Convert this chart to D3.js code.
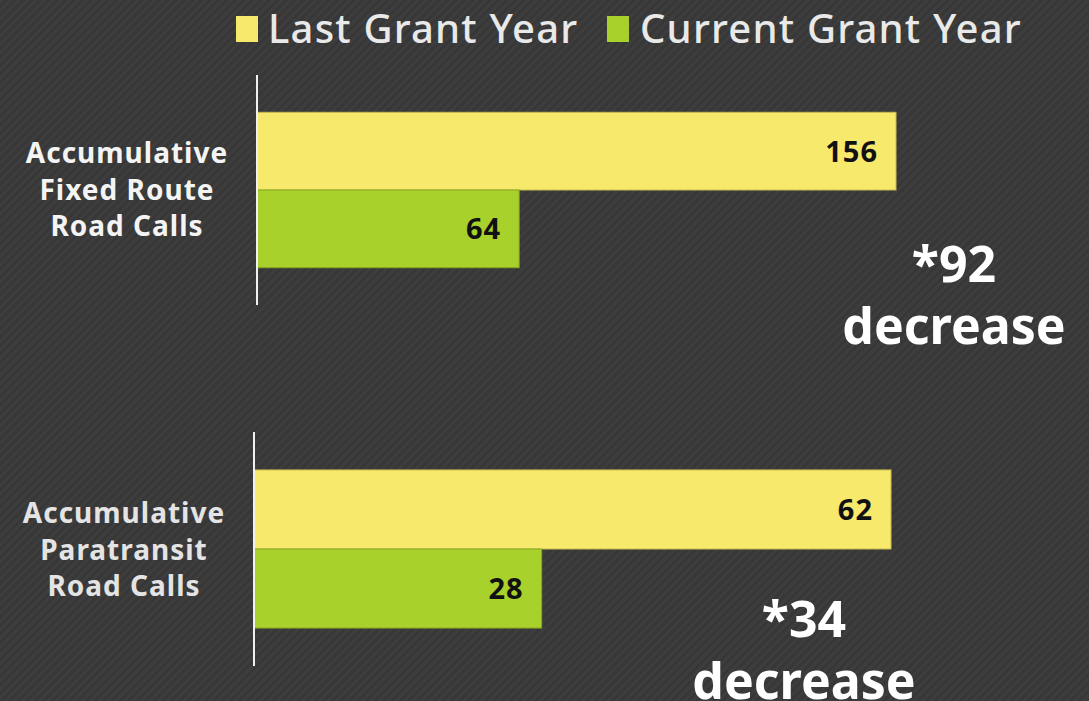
<!doctype html>
<html>
<head>
<meta charset="utf-8">
<script src="https://cdnjs.cloudflare.com/ajax/libs/d3/7.8.5/d3.min.js"></script>
<style>
  html, body { margin: 0; padding: 0; background: #383838; }
  svg { display: block; }
</style>
</head>
<body>
<svg id="chart" width="1089" height="701"></svg>
<script>
// chart data
var seriesNames = ["Last Grant Year", "Current Grant Year"];
var categoryLines = [["Accumulative", "Fixed Route", "Road Calls"],
                     ["Accumulative", "Paratransit", "Road Calls"]];
var lastYear = [156, 62];
var currentYear = [64, 28];
var noteLines = [["*92", "decrease"], ["*34", "decrease"]];

var colors = d3.scaleOrdinal().domain(seriesNames).range(["#f6e96c", "#a9d12b"]);
var edges = d3.scaleOrdinal().domain(seriesNames).range(["#c9bd50", "#86a81e"]);

var svg = d3.select("#chart"),
    width = +svg.attr("width"),
    height = +svg.attr("height");

// striped background
var defs = svg.append("defs");
var pat = defs.append("pattern")
    .attr("id", "stripes")
    .attr("width", 6).attr("height", 6)
    .attr("patternUnits", "userSpaceOnUse")
    .attr("patternTransform", "rotate(45)");
pat.append("rect").attr("width", 6).attr("height", 6).attr("fill", "#373737");
pat.append("rect").attr("width", 3).attr("height", 6).attr("fill", "#3d3d3d");
svg.append("rect").attr("width", width).attr("height", height).attr("fill", "url(#stripes)");

var font = "'Noto Sans', 'Open Sans', sans-serif";

// legend
var legendItems = [{x: 236, tx: 268}, {x: 607, tx: 640}];
var legend = svg.append("g").attr("class", "legend");
seriesNames.forEach(function(name, i) {
    legend.append("rect")
        .attr("x", legendItems[i].x).attr("y", 16)
        .attr("width", 22).attr("height", 26)
        .attr("fill", colors(name));
    legend.append("text")
        .attr("x", legendItems[i].tx).attr("y", 43)
        .attr("font-family", font).attr("font-size", 40)
        .attr("font-weight", 500)
        .attr("letter-spacing", 1.2)
        .attr("fill", "#e9e9e9")
        .text(name);
});

// each category is its own little chart with its own scale
var panels = [
    {axisX: 257, top: 75, bottom: 305, span: 639, labelX: 127, labelY: 163, labelFill: "#f4f4f4",
     noteX: 954, noteY: 282},
    {axisX: 254, top: 432, bottom: 666, span: 637, labelX: 124, labelY: 523, labelFill: "#e4e4e4",
     noteX: 804, noteY: 637}
];

panels.forEach(function(p, i) {
    var vals = [lastYear[i], currentYear[i]];
    var x = d3.scaleLinear().domain([0, lastYear[i]]).range([p.axisX, p.axisX + p.span]);
    var y = d3.scaleBand().domain(seriesNames).range([p.top, p.bottom])
        .paddingInner(0).paddingOuter(0.48);

    var g = svg.append("g").attr("class", "panel");

    g.selectAll("rect.bar")
        .data(vals)
        .enter().append("rect")
        .attr("class", "bar")
        .attr("x", x(0))
        .attr("y", function(d, j) { return y(seriesNames[j]); })
        .attr("width", function(d) { return x(d) - x(0); })
        .attr("height", y.bandwidth())
        .attr("fill", function(d, j) { return colors(seriesNames[j]); })
        .attr("stroke", function(d, j) { return edges(seriesNames[j]); })
        .attr("stroke-width", 1);

    g.selectAll("text.val")
        .data(vals)
        .enter().append("text")
        .attr("class", "val")
        .attr("x", function(d) { return x(d) - 18; })
        .attr("y", function(d, j) { return y(seriesNames[j]) + y.bandwidth() / 2; })
        .attr("dy", "0.36em")
        .attr("text-anchor", "end")
        .attr("font-family", font).attr("font-size", 29).attr("font-weight", "bold")
        .attr("letter-spacing", 1)
        .attr("fill", "#111")
        .text(function(d) { return d; });

    // axis line
    g.append("line")
        .attr("x1", p.axisX).attr("x2", p.axisX)
        .attr("y1", p.top).attr("y2", p.bottom)
        .attr("stroke", "#f0f0f0").attr("stroke-width", 2);

    // category label
    var lab = g.append("text")
        .attr("text-anchor", "middle")
        .attr("font-family", font).attr("font-size", 28).attr("font-weight", "bold")
        .attr("letter-spacing", 1)
        .attr("fill", p.labelFill);
    categoryLines[i].forEach(function(t, k) {
        lab.append("tspan").attr("x", p.labelX).attr("y", p.labelY + k * 36.5).text(t);
    });

    // difference note
    var note = g.append("text")
        .attr("text-anchor", "middle")
        .attr("font-family", font).attr("font-size", 50).attr("font-weight", "bold")
        .attr("fill", "#ffffff");
    noteLines[i].forEach(function(t, k) {
        note.append("tspan").attr("x", p.noteX).attr("y", p.noteY + k * 62).text(t);
    });
});
</script>
</body>
</html>
